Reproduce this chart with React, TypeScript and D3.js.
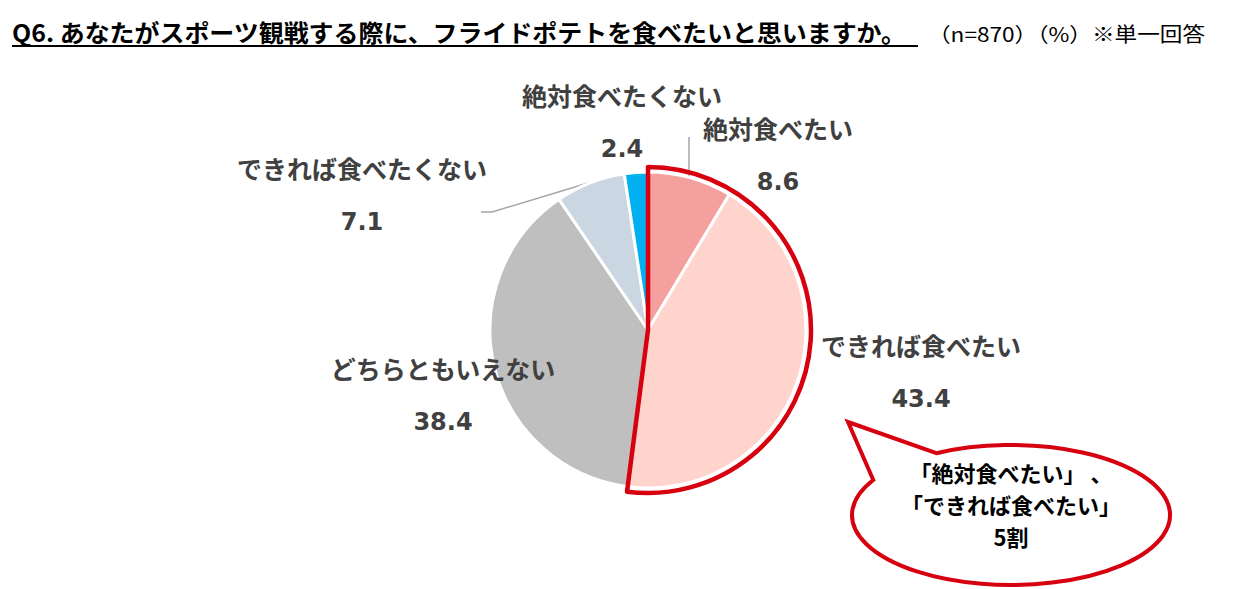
import React from "react";
import * as d3 from "d3";

const categories = ["絶対食べたい", "できれば食べたい", "どちらともいえない", "できれば食べたくない", "絶対食べたくない"];
const values = [8.6, 43.4, 38.4, 7.1, 2.4];
const colors = ["#F4A09F", "#FFD4CD", "#BFBFBF", "#CAD6E2", "#00B0F0"];
// label centres (name line, value line below)
const labelPos: [number, number][] = [
  [778, 130],
  [921, 347],
  [443, 370],
  [362, 170],
  [622, 97],
];

const title = "Q6. あなたがスポーツ観戦する際に、フライドポテトを食べたいと思いますか。";
const note = "（n=870）（%）※単一回答";
const bubbleLines = ["「絶対食べたい」 、", "「できれば食べたい」", "5割"];

const W = 1237;
const H = 589;
const cx = 648;
const cy = 330;
const R = 158;
const font = "'Noto Sans CJK JP', 'Noto Sans', sans-serif";
const numFont = "'DejaVu Sans', Verdana, sans-serif";

export default function App() {
  const pie = d3.pie<number>().sort(null).value((d) => d);
  const arcs = pie(values);
  const arcGen = d3.arc<d3.PieArcDatum<number>>().innerRadius(0).outerRadius(R);

  // red highlight around the first two slices
  const hlEnd = arcs[1].endAngle;
  const hl = d3.arc()({ innerRadius: 0, outerRadius: R + 5, startAngle: 0, endAngle: hlEnd }) as string;

  // speech bubble
  const ex = 1011, ey = 515, erx = 159, ery = 70;
  const tip: [number, number] = [848, 422];
  const pt = (deg: number) => {
    const a = (deg * Math.PI) / 180;
    return [ex + erx * Math.cos(a), ey + ery * Math.sin(a)];
  };
  const p1 = pt(-118);
  const p2 = pt(-150);
  const bubble = `M${p1[0]},${p1[1]} L${tip[0]},${tip[1]} L${p2[0]},${p2[1]} A${erx},${ery} 0 1 0 ${p1[0]},${p1[1]} Z`;

  return (
    <svg width={W} height={H} style={{ position: "absolute", left: 0, top: 0, background: "#fff" }}>
      <text x={12} y={42} fontFamily={font} fontWeight="bold" fontSize={24} fill="#000" textLength={894} lengthAdjust="spacingAndGlyphs">
        {title}
      </text>
      <line x1={12} x2={918} y1={46} y2={46} stroke="#000" strokeWidth={2} />
      <text x={928} y={42} fontFamily={font} fontSize={20} fill="#000" textLength={277} lengthAdjust="spacingAndGlyphs">
        {note}
      </text>

      {/* leader lines */}
      <polyline points="689,137 689,176" fill="none" stroke="#A6A6A6" strokeWidth={1.5} />
      <polyline points="481,212 492,212 588,183" fill="none" stroke="#A6A6A6" strokeWidth={1.5} />

      <g transform={`translate(${cx},${cy})`}>
        {arcs.map((a, i) => (
          <path key={i} d={arcGen(a) as string} fill={colors[i]} stroke="#fff" strokeWidth={3} strokeLinejoin="round" />
        ))}
        <path d={hl} fill="none" stroke="#D7000F" strokeWidth={4.5} strokeLinejoin="round" />
      </g>

      {categories.map((c, i) => (
        <g key={c} fontWeight="bold" fill="#404040" textAnchor="middle">
          <text x={labelPos[i][0]} y={labelPos[i][1] + 9} fontSize={25} fontFamily={font}>
            {c}
          </text>
          <text x={labelPos[i][0]} y={labelPos[i][1] + 60} fontSize={24} fontFamily={numFont}>
            {values[i].toFixed(1)}
          </text>
        </g>
      ))}

      <path d={bubble} fill="#fff" stroke="#D7000F" strokeWidth={4} strokeLinejoin="miter" />
      {bubbleLines.map((t, i) => (
        <text key={i} x={ex} y={482 + i * 32} textAnchor="middle" fontFamily={font} fontWeight="bold" fontSize={22} fill="#000">
          {t}
        </text>
      ))}
    </svg>
  );
}
